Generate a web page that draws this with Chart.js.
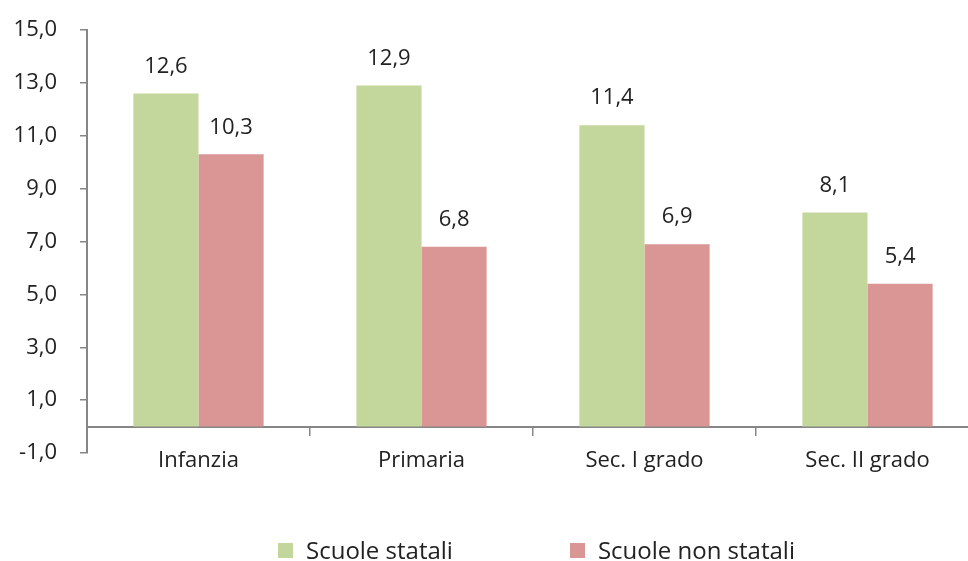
<!DOCTYPE html>
<html>
<head>
<meta charset="utf-8">
<script src="https://cdn.jsdelivr.net/npm/chart.js@4.4.1/dist/chart.umd.min.js"></script>
<style>
  html, body { margin: 0; padding: 0; background: #fff; overflow: hidden; }
  #wrap { position: relative; width: 980px; height: 561px; }
  #legend {
    position: absolute; left: 278px; top: 537px;
    display: flex; gap: 117px; white-space: nowrap;
    font-family: "Open Sans", sans-serif; font-size: 24px; color: #222;
  }
  #legend .item { display: flex; align-items: center; line-height: 26px; }
  #legend .box { width: 15px; height: 15px; margin-right: 13px; }
</style>
</head>
<body>
<div id="wrap">
  <canvas id="chart"></canvas>
  <div id="legend"></div>
</div>
<script>
const categories = ['Infanzia', 'Primaria', 'Sec. I grado', 'Sec. II grado'];
const statali = [12.6, 12.9, 11.4, 8.1];
const nonStatali = [10.3, 6.8, 6.9, 5.4];
const seriesNames = ['Scuole statali', 'Scuole non statali'];
const seriesColors = ['#c3d69b', '#d99694'];
const yTicks = [-1, 1, 3, 5, 7, 9, 11, 13, 15];

const fmt = v => v.toFixed(1).replace('.', ',');
const textColor = '#222';
const axisColor = '#868686';
const font = { family: '"Open Sans", sans-serif', size: 22 };

// etichette sopra le barre
const barLabels = {
    id: 'barLabels',
    afterDatasetsDraw(chart) {
        const ctx = chart.ctx;
        ctx.save();
        ctx.font = `${font.size}px ${font.family}`;
        ctx.fillStyle = textColor;
        ctx.textAlign = 'center';
        ctx.textBaseline = 'middle';
        chart.data.datasets.forEach((ds, i) => {
            chart.getDatasetMeta(i).data.forEach((bar, j) => {
                ctx.fillText(fmt(ds.data[j]), bar.x, bar.y - 27);
            });
        });
        ctx.restore();
    }
};

const ctx = document.getElementById('chart').getContext('2d');
const chart = new Chart(ctx, {
    type: 'bar',
    data: {
        labels: categories,
        datasets: [
            { label: seriesNames[0], data: statali, backgroundColor: seriesColors[0] },
            { label: seriesNames[1], data: nonStatali, backgroundColor: seriesColors[1] }
        ]
    },
    options: {
        responsive: false,
        animation: false,
        maintainAspectRatio: false,
        layout: { padding: { top: 30, right: 1, bottom: 108, left: 0 } },
        datasets: { bar: { categoryPercentage: 0.584, barPercentage: 1.0 } },
        scales: {
            x: {
                position: { y: 0 },
                grid: { offset: true, drawOnChartArea: false, tickLength: 8, color: axisColor, lineWidth: 1.5 },
                border: { color: axisColor, width: 2 },
                ticks: { color: textColor, font: font, padding: 13 }
            },
            y: {
                min: Math.min(...yTicks),
                max: Math.max(...yTicks),
                afterBuildTicks: s => { s.ticks = yTicks.map(v => ({ value: v })); },
                afterFit: s => { s.width = 87; s.paddingTop = 0; s.paddingBottom = 0; },
                grid: { drawOnChartArea: false, tickLength: 7, color: axisColor, lineWidth: 1.5 },
                border: { color: axisColor, width: 2 },
                ticks: { color: textColor, font: font, padding: 23, callback: v => fmt(v) }
            }
        },
        plugins: {
            legend: { display: false },
            tooltip: { enabled: false }
        }
    },
    plugins: [barLabels]
});
chart.canvas.style.width = '980px';
chart.canvas.style.height = '561px';
chart.resize(980, 561);

// legenda
const legend = document.getElementById('legend');
seriesNames.forEach((name, i) => {
    const item = document.createElement('div');
    item.className = 'item';
    item.innerHTML = `<span class="box" style="background:${seriesColors[i]}"></span><span>${name}</span>`;
    legend.appendChild(item);
});
</script>
</body>
</html>
